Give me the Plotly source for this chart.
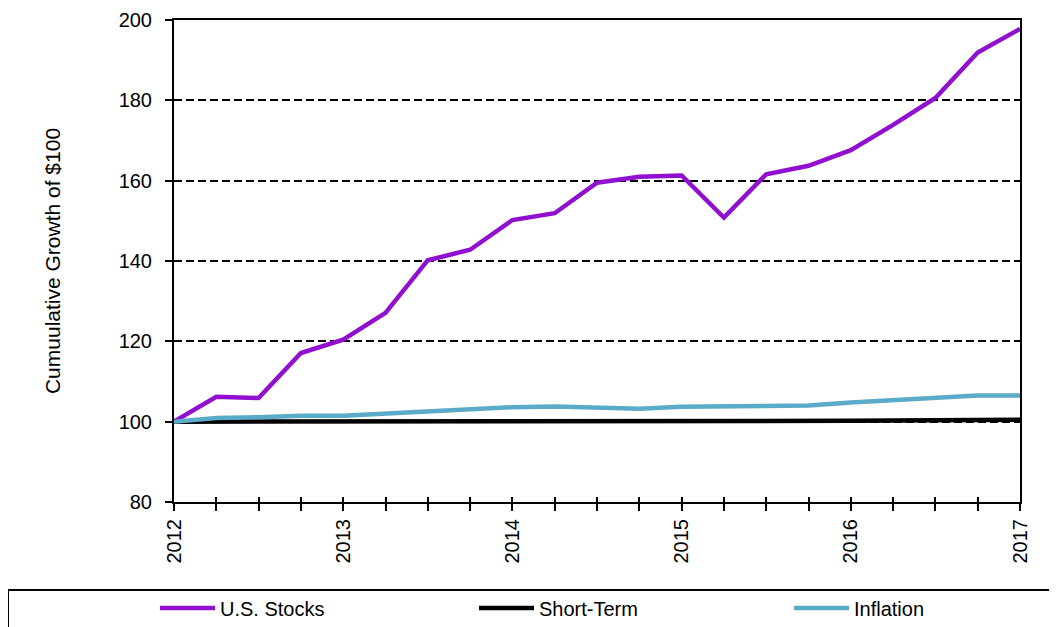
import plotly.graph_objects as go

x_quarters = [2012.0, 2012.25, 2012.5, 2012.75, 2013.0, 2013.25, 2013.5, 2013.75,
              2014.0, 2014.25, 2014.5, 2014.75, 2015.0, 2015.25, 2015.5, 2015.75,
              2016.0, 2016.25, 2016.5, 2016.75, 2017.0]
us_stocks = [100.0, 106.2, 105.9, 117.1, 120.4, 127.1, 140.2, 142.8, 150.2, 151.9,
             159.5, 161.0, 161.3, 150.8, 161.6, 163.7, 167.6, 173.9, 180.6, 191.9, 197.8]
short_term = [100.0, 100.0, 100.0, 100.0, 100.0, 100.0, 100.0, 100.0, 100.0, 100.0,
              100.0, 100.0, 100.0, 100.1, 100.1, 100.2, 100.2, 100.3, 100.3, 100.4, 100.5]
inflation = [100.0, 100.9, 101.1, 101.5, 101.5, 102.0, 102.5, 103.1, 103.6, 103.8,
             103.4, 103.2, 103.7, 103.8, 103.9, 104.0, 104.8, 105.4, 106.1, 106.5, 106.5]
year_ticks = [2012, 2013, 2014, 2015, 2016, 2017]
y_ticks = [80, 100, 120, 140, 160, 180, 200]

FONT = "Liberation Sans, Arial, sans-serif"

# figure is placed 8px in from the page edge (default body margin)
L, R, T, B = 166, 45, 12, 133
W, H = 1057, 627
pw = W - L - R
ph = H - T - B


def px_x(win_x):
    return (win_x - 8 - L) / pw


def px_y(win_y):
    return (H - B - (win_y - 8)) / ph


fig = go.Figure()
fig.add_trace(go.Scatter(x=x_quarters, y=us_stocks, mode="lines", name="U.S. Stocks",
                         line=dict(color="#9110CF", width=4.5), legend="legend"))
fig.add_trace(go.Scatter(x=x_quarters, y=short_term, mode="lines", name="Short-Term",
                         line=dict(color="#000000", width=4.5), legend="legend2"))
fig.add_trace(go.Scatter(x=x_quarters, y=inflation, mode="lines", name="Inflation",
                         line=dict(color="#5AABC8", width=4.5), legend="legend3"))
# overlay axis only for inward tick marks
fig.add_trace(go.Scatter(x=[2012, 2017], y=[None, None], xaxis="x2", showlegend=False,
                         hoverinfo="skip"))

leg_common = dict(orientation="h", xanchor="left", yanchor="middle", y=px_y(608),
                  itemwidth=55, font=dict(size=20, family=FONT),
                  bgcolor="rgba(0,0,0,0)", borderwidth=0)

fig.update_layout(
    width=W, height=H,
    margin=dict(l=L, r=R, t=T, b=B, autoexpand=False),
    plot_bgcolor="white", paper_bgcolor="white",
    font=dict(family=FONT, size=20, color="black"),
    xaxis=dict(range=[2012, 2017], tickvals=x_quarters,
               ticktext=[str(int(v)) if v in year_ticks else "" for v in x_quarters],
               tickangle=-90, ticks="outside", ticklen=7, tickwidth=2, tickcolor="black",
               showline=True, linecolor="black", linewidth=2, mirror=True,
               showgrid=False, zeroline=False, tickfont=dict(size=20),
               ticklabelstandoff=0),
    xaxis2=dict(range=[2012, 2017], overlaying="x", tickvals=x_quarters,
                showticklabels=False, ticks="inside", ticklen=5, tickwidth=2,
                tickcolor="black", showgrid=False, zeroline=False, showline=False,
                side="bottom"),
    yaxis=dict(range=[80, 200], tickvals=y_ticks, ticks="outside", ticklen=7,
               tickwidth=2, tickcolor="black",
               showline=True, linecolor="black", linewidth=2, mirror=True,
               showgrid=True, gridcolor="black", gridwidth=2, griddash="8px,4px",
               zeroline=False, tickfont=dict(size=20), ticklabelstandoff=9,
               title=dict(text="Cumuulative Growth of $100", font=dict(size=21),
                          standoff=52)),
    legend=dict(leg_common, x=px_x(155)),
    legend2=dict(leg_common, x=px_x(474)),
    legend3=dict(leg_common, x=px_x(789)),
    showlegend=True,
)

fig.add_shape(type="rect", xref="paper", yref="paper",
              x0=px_x(8), x1=px_x(1075), y0=px_y(590), y1=px_y(660),
              line=dict(color="black", width=2), fillcolor="rgba(0,0,0,0)", layer="below")

fig.write_html("out.html")
